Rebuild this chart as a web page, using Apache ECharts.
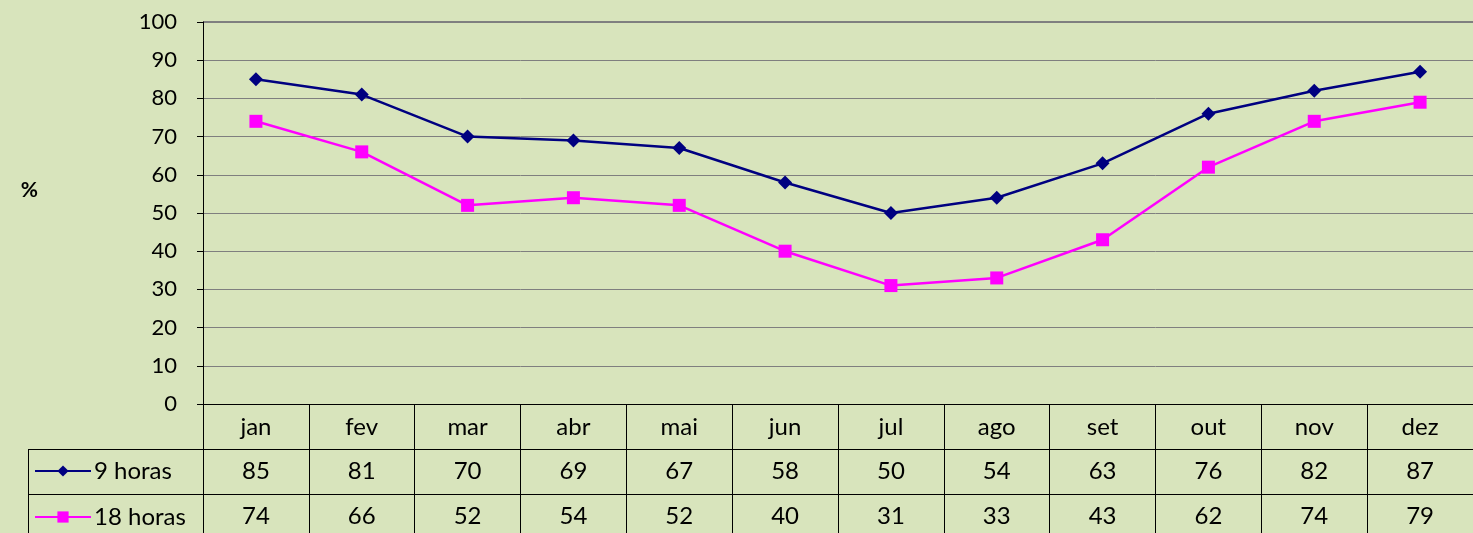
<!DOCTYPE html>
<html>
<head>
<meta charset="utf-8">
<script src="https://cdn.jsdelivr.net/npm/echarts@6/dist/echarts.min.js"></script>
<style>
  html, body { margin: 0; padding: 0; background: #d8e4bc; }
  #chart { width: 1473px; height: 533px; }
</style>
</head>
<body>
<div id="chart"></div>
<script>
const months = ['jan', 'fev', 'mar', 'abr', 'mai', 'jun', 'jul', 'ago', 'set', 'out', 'nov', 'dez'];
const morning = [85, 81, 70, 69, 67, 58, 50, 54, 63, 76, 82, 87];
const evening = [74, 66, 52, 54, 52, 40, 31, 33, 43, 62, 74, 79];
const seriesNames = ['9 horas', '18 horas'];
const yTicks = { min: 0, max: 100, interval: 10 };

const fontFamily = 'Lato, "Open Sans", sans-serif';
const textColor = '#000000';
const rowHeight = 45;

const chart = echarts.init(document.querySelector('#chart'), null, { renderer: 'canvas' });

function tableAxis(values, row) {
  return {
    type: 'category',
    data: values.map(String),
    position: 'bottom',
    offset: rowHeight * row,
    axisLine: { show: true, lineStyle: { color: '#000000', width: 1 } },
    axisTick: { show: false },
    axisLabel: {
      color: textColor,
      fontFamily: fontFamily,
      fontSize: 24,
      margin: 10,
      interval: 0
    },
    splitLine: { show: false }
  };
}

function legendRow(name, top) {
  return {
    data: [name],
    left: 34,
    top: top,
    itemWidth: 56,
    itemHeight: 14,
    itemGap: 0,
    padding: 0,
    textStyle: { color: textColor, fontFamily: fontFamily, fontSize: 24, padding: [0, 0, 0, -2] }
  };
}

chart.setOption({
  animation: false,
  backgroundColor: '#d8e4bc',
  grid: {
    left: 203,
    top: 22,
    width: 1276,
    bottom: 129,
    containLabel: false
  },
  legend: [
    legendRow(seriesNames[0], 459),
    legendRow(seriesNames[1], 505)
  ],
  xAxis: [
    {
      type: 'category',
      data: months,
      boundaryGap: true,
      axisLine: { show: true, lineStyle: { color: '#000000', width: 1 } },
      axisTick: {
        show: true,
        length: 130,
        lineStyle: { color: '#000000', width: 1 }
      },
      axisLabel: {
        color: textColor,
        fontFamily: fontFamily,
        fontSize: 24,
        margin: 11,
        interval: 0
      },
      splitLine: { show: false }
    },
    tableAxis(morning, 1),
    tableAxis(evening, 2)
  ],
  yAxis: {
    type: 'value',
    min: yTicks.min,
    max: yTicks.max,
    interval: yTicks.interval,
    name: '%',
    nameLocation: 'middle',
    nameRotate: 0,
    nameGap: 165,
    nameTextStyle: {
      color: textColor,
      fontFamily: fontFamily,
      fontSize: 21,
      fontWeight: 'bold',
      verticalAlign: 'bottom',
      padding: [0, 0, 12, 0]
    },
    axisLine: { show: true, lineStyle: { color: '#000000', width: 1 } },
    axisTick: { show: true, inside: false, length: 6, lineStyle: { color: '#000000' } },
    axisLabel: {
      color: textColor,
      fontFamily: fontFamily,
      fontSize: 22,
      margin: 26
    },
    splitLine: { show: true, lineStyle: { color: '#7f7f7f', width: 1 } }
  },
  graphic: [
    { type: 'line', shape: { x1: 28, y1: 449.5, x2: 203, y2: 449.5 }, style: { stroke: '#000000', lineWidth: 1 } },
    { type: 'line', shape: { x1: 28, y1: 494.5, x2: 203, y2: 494.5 }, style: { stroke: '#000000', lineWidth: 1 } },
    { type: 'line', shape: { x1: 28.5, y1: 449, x2: 28.5, y2: 533 }, style: { stroke: '#000000', lineWidth: 1 } },
    { type: 'line', shape: { x1: 203, y1: 22, x2: 1473, y2: 22 }, style: { stroke: '#808080', lineWidth: 2 } }
  ],
  series: [
    {
      name: seriesNames[0],
      type: 'line',
      xAxisIndex: 0,
      data: morning,
      symbol: 'diamond',
      symbolSize: 14,
      lineStyle: { color: '#000080', width: 2.5 },
      itemStyle: { color: '#000080' },
      emphasis: { disabled: true },
      z: 3
    },
    {
      name: seriesNames[1],
      type: 'line',
      xAxisIndex: 0,
      data: evening,
      symbol: 'rect',
      symbolSize: 13,
      lineStyle: { color: '#ff00ff', width: 2.5 },
      itemStyle: { color: '#ff00ff' },
      emphasis: { disabled: true },
      z: 2
    }
  ]
});
</script>
</body>
</html>
